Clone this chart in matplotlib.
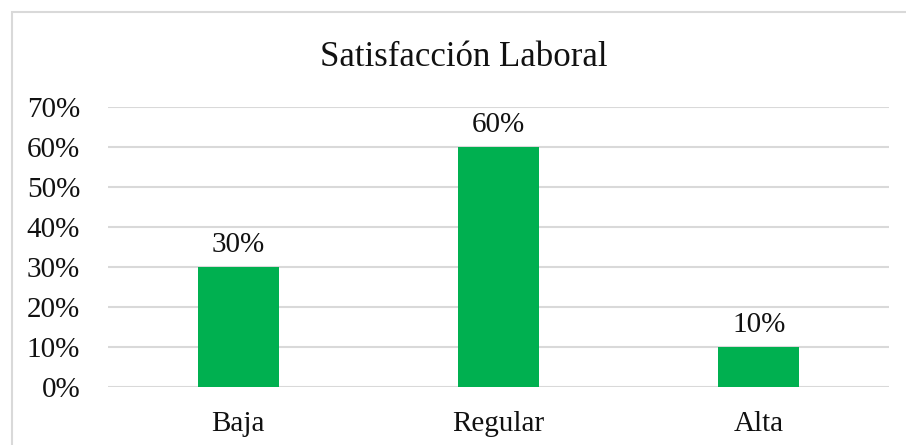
import matplotlib.pyplot as plt
from matplotlib.patches import Rectangle

categorias = ["Baja", "Regular", "Alta"]
porcentajes = [30, 60, 10]
ticks_y = [0, 10, 20, 30, 40, 50, 60, 70]

plt.rcParams['font.family'] = ['Liberation Serif', 'DejaVu Serif']

fig = plt.figure(figsize=(9.06, 4.45), dpi=100)
ax = fig.add_axes([108 / 906, 58 / 445, 781 / 906, 280 / 445])

x = range(len(categorias))
bars = ax.bar(x, porcentajes, width=0.31, color="#00B050", zorder=3)
for b, v in zip(bars, porcentajes):
    ax.text(b.get_x() + b.get_width() / 2, v + 2.2, f"{v}%",
            ha="center", va="bottom", fontsize=21, color="#111111")

ax.set_xlim(-0.5, 2.5)
ax.set_ylim(0, 70)
ax.set_yticks(ticks_y)
ax.set_yticklabels([f"{t}%" for t in ticks_y])
ax.set_xticks(list(x))
ax.set_xticklabels(categorias)
ax.tick_params(axis="both", length=0, labelsize=21, colors="#111111")
ax.tick_params(axis="y", pad=20)
ax.tick_params(axis="x", pad=17)
ax.grid(axis="y", color="#d9d9d9", linewidth=1.5, zorder=0)
for s in ax.spines.values():
    s.set_visible(False)

fig.text(464 / 906, 1 - 57 / 445, "Satisfacción Laboral", ha="center", va="center",
         fontsize=25, color="#111111")

# chart border (extends past the right and bottom edges of the image)
fig.patches.append(Rectangle((12 / 906, -0.1), 1.0, 1 - 12 / 445 + 0.1,
                             transform=fig.transFigure, fill=False,
                             edgecolor="#d9d9d9", linewidth=1.5))

fig.savefig("out.png", dpi=100)
